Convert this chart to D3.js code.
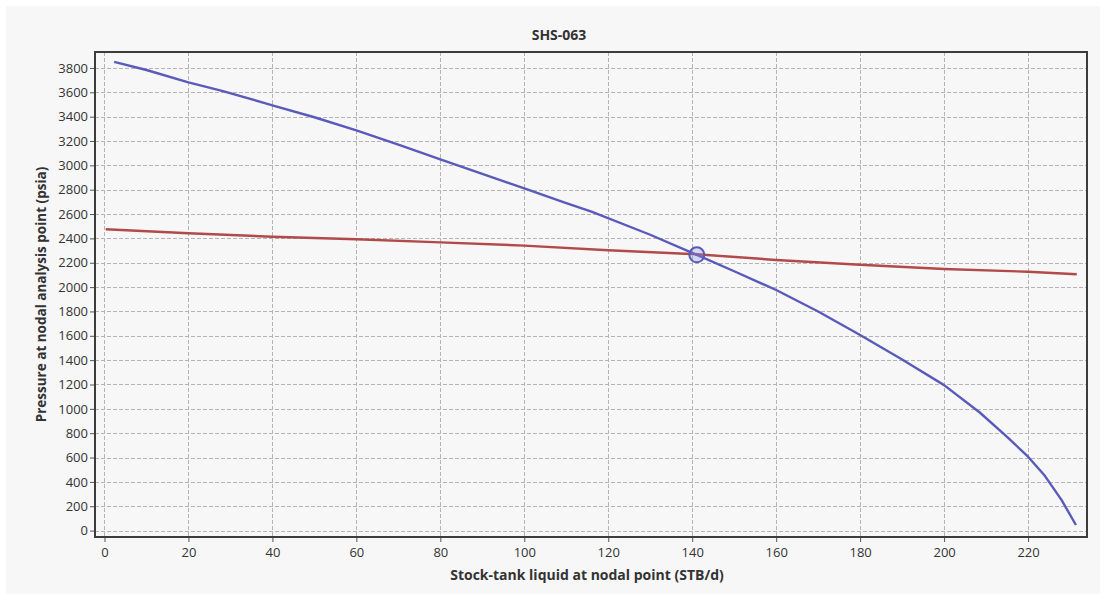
<!DOCTYPE html>
<html>
<head>
<meta charset="utf-8">
<script src="https://cdn.jsdelivr.net/npm/d3@7"></script>
<style>
  html, body { margin: 0; padding: 0; background: #ffffff; }
  svg { display: block; }
  text { font-family: "Open Sans", "Noto Sans", sans-serif; fill: #333; }
</style>
</head>
<body>
<svg id="chart" width="1107" height="594"></svg>
<script>
// ---- data ----
const title = "SHS-063";
const xLabel = "Stock-tank liquid at nodal point (STB/d)";
const yLabel = "Pressure at nodal analysis point (psia)";
const xTicks = [0, 20, 40, 60, 80, 100, 120, 140, 160, 180, 200, 220];
const yTicks = [0, 200, 400, 600, 800, 1000, 1200, 1400, 1600, 1800, 2000, 2200, 2400, 2600, 2800, 3000, 3200, 3400, 3600, 3800];

// Inflow (IPR) curve - blue
const iprRate = [2.3, 10, 20, 28, 40, 50, 60, 70, 80, 90, 100, 110, 116, 130, 141.1, 150, 160, 170, 180, 190, 200, 208.5, 215, 220, 224, 228, 231.4];
const iprPressure = [3850, 3783, 3682, 3612, 3493, 3395, 3288, 3170, 3050, 2930, 2811, 2690, 2620, 2430, 2265, 2130, 1976, 1800, 1607, 1405, 1195, 970, 770, 607, 450, 250, 46];

// Outflow (VLP) curve - red
const vlpRate = [0.3, 20, 40, 60, 80, 100, 120, 141, 160, 180, 200, 220, 231.6];
const vlpPressure = [2475, 2442, 2414, 2393, 2367, 2341, 2303, 2270, 2223, 2184, 2149, 2126, 2105];

// Operating point
const opRate = [141.1];
const opPressure = [2265];

// ---- layout ----
const svg = d3.select("#chart");
const plot = { left: 95, right: 1087, top: 52, bottom: 537 };

svg.append("rect").attr("x", 6).attr("y", 6).attr("width", 1094).attr("height", 588).attr("fill", "#f7f7f7");

const x = d3.scaleLinear().domain([-2.26, 234.04]).range([plot.left, plot.right]);
const y = d3.scaleLinear().domain([-52.6, 3931]).range([plot.bottom, plot.top]);

// grid
const grid = svg.append("g");
grid.selectAll("line.vx").data(xTicks).join("line")
  .attr("x1", d => Math.round(x(d)) + 0.5).attr("x2", d => Math.round(x(d)) + 0.5)
  .attr("y1", plot.top).attr("y2", plot.bottom)
  .attr("stroke", "#b4b4b4").attr("stroke-width", 1).attr("stroke-dasharray", "4,2");
grid.selectAll("line.hy").data(yTicks).join("line")
  .attr("y1", d => Math.round(y(d)) + 0.5).attr("y2", d => Math.round(y(d)) + 0.5)
  .attr("x1", plot.left).attr("x2", plot.right)
  .attr("stroke", "#b4b4b4").attr("stroke-width", 1).attr("stroke-dasharray", "4,2");

// axes
const xAxis = d3.axisBottom(x).tickValues(xTicks).tickSize(5).tickPadding(6).tickFormat(d3.format("d"));
const yAxis = d3.axisLeft(y).tickValues(yTicks).tickSize(5).tickPadding(2).tickFormat(d3.format("d"));

const gx = svg.append("g").attr("transform", `translate(0,${plot.bottom})`).call(xAxis);
const gy = svg.append("g").attr("transform", `translate(${plot.left},0)`).call(yAxis);
[gx, gy].forEach(g => {
  g.select(".domain").remove();
  g.selectAll(".tick line").attr("stroke", "#555");
  g.selectAll(".tick text").attr("fill", "#333").style("font-size", "13px")
    .style("font-family", "'Open Sans', 'Noto Sans', sans-serif");
});

// curves
const line = d3.line().x(d => x(d[0])).y(d => y(d[1]));
svg.append("clipPath").attr("id", "clip").append("rect")
  .attr("x", plot.left).attr("y", plot.top).attr("width", plot.right - plot.left).attr("height", plot.bottom - plot.top);

svg.append("path").datum(vlpRate.map((r, i) => [r, vlpPressure[i]]))
  .attr("d", line).attr("fill", "none").attr("stroke", "#b24a4a").attr("stroke-width", 2.4)
  .attr("stroke-linejoin", "round").attr("clip-path", "url(#clip)");
svg.append("path").datum(iprRate.map((r, i) => [r, iprPressure[i]]))
  .attr("d", line).attr("fill", "none").attr("stroke", "#5a5abb").attr("stroke-width", 2.4)
  .attr("stroke-linejoin", "round").attr("clip-path", "url(#clip)");

svg.selectAll("circle.op").data(opRate.map((r, i) => [r, opPressure[i]])).join("circle")
  .attr("cx", d => x(d[0])).attr("cy", d => y(d[1])).attr("r", 7.5)
  .attr("fill", "rgba(140,140,220,0.3)").attr("stroke", "#5a5abb").attr("stroke-width", 2);

// frame
svg.append("rect").attr("x", plot.left).attr("y", plot.top)
  .attr("width", plot.right - plot.left).attr("height", plot.bottom - plot.top)
  .attr("fill", "none").attr("stroke", "#3c3c3c").attr("stroke-width", 2);

// titles
svg.append("text").attr("x", 559).attr("y", 40).attr("text-anchor", "middle")
  .style("font-size", "14px").style("font-weight", "bold").attr("fill", "#222").text(title);
svg.append("text").attr("x", 587).attr("y", 580).attr("text-anchor", "middle")
  .style("font-size", "14px").style("font-weight", "bold").attr("fill", "#222").text(xLabel);
svg.append("text").attr("transform", `translate(46,${(plot.top + plot.bottom) / 2}) rotate(-90)`)
  .attr("text-anchor", "middle")
  .style("font-size", "13.5px").style("font-weight", "bold").attr("fill", "#222").text(yLabel);
</script>
</body>
</html>
